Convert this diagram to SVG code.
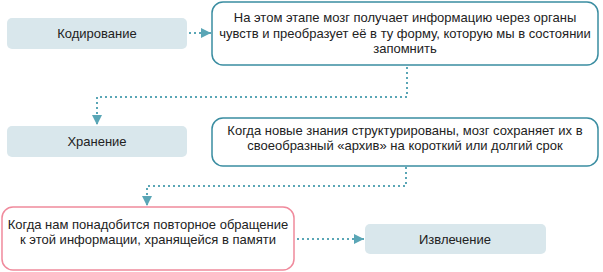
<svg xmlns="http://www.w3.org/2000/svg" width="603" height="272" viewBox="0 0 603 272">
<style>
.bg{fill:#ffffff}
.step{fill:#d9e7ec;stroke:none}
.desc{fill:#ffffff;stroke:#3a8da1;stroke-width:1.5}
.pink{fill:#ffffff;stroke:#f08a9c;stroke-width:1.5}
text{font-family:"Liberation Sans",Arial,sans-serif;font-size:13px;fill:#222222;text-anchor:middle}
.conn{fill:none;stroke:#5aa6b6;stroke-width:2;stroke-dasharray:2 3}
</style>
<defs>
<marker id="arr" viewBox="0 0 10 10" refX="10" refY="5" markerWidth="10" markerHeight="10" markerUnits="userSpaceOnUse" orient="auto">
<path d="M0,0 L10,5 L0,10 z" fill="#5aa6b6"/>
</marker>
</defs>
<rect class="bg" x="0" y="0" width="603" height="272"/>
<g id="connectors">
<path class="conn" d="M189,33 H211" marker-end="url(#arr)"/>
<path class="conn" d="M407,67 V97 H97 V125" marker-end="url(#arr)"/>
<path class="conn" d="M406,167 V186 H147 V206" marker-end="url(#arr)"/>
<path class="conn" d="M297,239 H364" marker-end="url(#arr)"/>
</g>
<g id="encoding">
<rect class="step" x="7" y="18" width="180" height="31" rx="5"/>
<text x="97" y="38">Кодирование</text>
</g>
<g id="encoding-desc">
<rect class="desc" x="212" y="2" width="386" height="63" rx="11"/>
<text x="405" y="22">На этом этапе мозг получает информацию через органы</text>
<text x="405" y="38">чувств и преобразует её в ту форму, которую мы в состоянии</text>
<text x="405" y="53">запомнить</text>
</g>
<g id="storage">
<rect class="step" x="7" y="126" width="180" height="31" rx="5"/>
<text x="97" y="146">Хранение</text>
</g>
<g id="storage-desc">
<rect class="desc" x="212" y="118" width="386" height="48" rx="11"/>
<text x="405" y="135">Когда новые знания структурированы, мозг сохраняет их в</text>
<text x="405" y="150">своеобразный «архив» на короткий или долгий срок</text>
</g>
<g id="retrieval-desc">
<rect class="pink" x="2" y="207" width="292" height="63" rx="11"/>
<text x="148" y="229">Когда нам понадобится повторное обращение</text>
<text x="148" y="244">к этой информации, хранящейся в памяти</text>
</g>
<g id="retrieval">
<rect class="step" x="365" y="224" width="181" height="30" rx="5"/>
<text x="455" y="244">Извлечение</text>
</g>
</svg>
